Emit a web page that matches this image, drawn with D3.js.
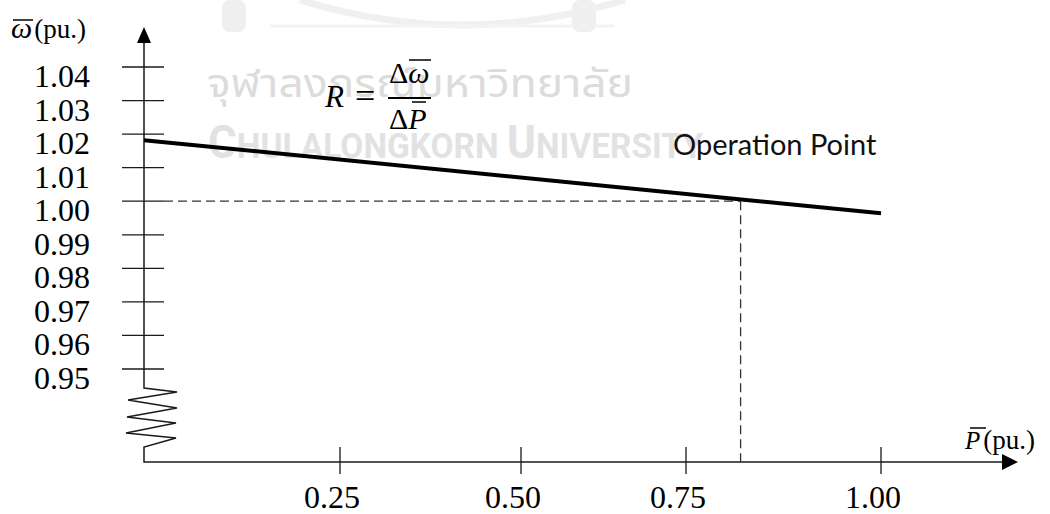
<!DOCTYPE html>
<html>
<head>
<meta charset="utf-8">
<script src="https://cdn.jsdelivr.net/npm/d3@7"></script>
<style>
  html, body { margin: 0; padding: 0; background: #fff; }
  svg { display: block; }
</style>
</head>
<body>
<svg id="canvas" width="1050" height="514"></svg>
<script>
// values
const yTicks = [0.95, 0.96, 0.97, 0.98, 0.99, 1.00, 1.01, 1.02, 1.03, 1.04]
const xTicks = [0.25, 0.50, 0.75, 1.00]
const xTickLabels = ["0.25", "0.50", "0.75", "1.00"]
// droop line (P, omega)
const droopP = [0, 1.00]
const droopW = [1.0182, 0.9964]
// operation point
const opP = 0.82
const opW = 1.00

const svg = d3.select('#canvas')
const serif = "'Liberation Serif', 'DejaVu Serif', serif"
const ink = '#1a1a1a'

// the drawing's x ticks are not evenly spaced, so a polylinear scale
const x = d3.scaleLinear()
  .domain([0, 0.25, 0.50, 0.75, 1.00])
  .range([144, 340, 521, 686, 881])
const y = d3.scaleLinear()
  .domain([0.95, 1.04])
  .range([369, 67])

const axisX = x(0)
const baseY = 462

//////////////////////
// faint watermark  //
//////////////////////
const wm = svg.append('g').attr('fill', '#efefef')
wm.append('path')
  .attr('d', 'M300,0 Q460,50 625,0')
  .attr('fill', 'none').attr('stroke', '#f0f0f0').attr('stroke-width', 7)
wm.append('line')
  .attr('x1', 270).attr('x2', 615).attr('y1', 26).attr('y2', 26)
  .attr('stroke', '#f3f3f3').attr('stroke-width', 3)
wm.append('rect').attr('x', 222).attr('y', 0).attr('width', 24).attr('height', 32).attr('rx', 8)
wm.append('rect').attr('x', 572).attr('y', 0).attr('width', 24).attr('height', 32).attr('rx', 8)
wm.append('text')
  .attr('x', 207).attr('y', 97)
  .attr('font-family', "'Noto Sans Thai', 'Loma', 'Garuda', sans-serif")
  .attr('font-size', 40)
  .attr('textLength', 426).attr('lengthAdjust', 'spacingAndGlyphs')
  .attr('fill', '#dcdcdc')
  .text('จุฬาลงกรณ์มหาวิทยาลัย')
const eng = wm.append('text')
  .attr('x', 208).attr('y', 158)
  .attr('font-family', "'Liberation Sans Narrow', 'Roboto', sans-serif")
  .attr('font-weight', 'bold')
  .attr('textLength', 495).attr('lengthAdjust', 'spacingAndGlyphs')
  .attr('fill', '#e2e2e2')
eng.append('tspan').attr('font-size', 46).text('C')
eng.append('tspan').attr('font-size', 35).text('HULALONGKORN ')
eng.append('tspan').attr('font-size', 46).text('U')
eng.append('tspan').attr('font-size', 35).text('NIVERSITY')

//////////////
// axes     //
//////////////
const zig = [[axisX, 42], [axisX, 388], [177, 392], [128, 400], [177, 408], [127, 417],
  [176, 423], [126, 433], [176, 438], [axisX, 447], [axisX, baseY], [1004, baseY]]
svg.append('path')
  .attr('d', d3.line()(zig))
  .attr('fill', 'none').attr('stroke', ink).attr('stroke-width', 1.5)

// arrow heads
svg.append('path')
  .attr('d', `M${axisX},27 L${axisX - 7},43 L${axisX + 7},43 Z`)
  .attr('fill', '#000')
svg.append('path')
  .attr('d', `M1018,${baseY} L1002,${baseY - 8} L1002,${baseY + 8} Z`)
  .attr('fill', '#000')

// y ticks, crossing the axis
svg.append('g').selectAll('line')
  .data(yTicks)
  .join('line')
  .attr('x1', axisX - 22).attr('x2', axisX + 20)
  .attr('y1', d => y(d)).attr('y2', d => y(d))
  .attr('stroke', ink).attr('stroke-width', 1.3)

svg.append('g').selectAll('text')
  .data(yTicks)
  .join('text')
  .attr('x', 90)
  .attr('y', d => y(d) + 20)
  .attr('text-anchor', 'end')
  .attr('font-family', serif).attr('font-size', 32)
  .attr('fill', '#000')
  .text(d => d3.format('.2f')(d))

// x ticks
svg.append('g').selectAll('line')
  .data(xTicks)
  .join('line')
  .attr('x1', d => x(d)).attr('x2', d => x(d))
  .attr('y1', 447).attr('y2', 474)
  .attr('stroke', ink).attr('stroke-width', 1.3)

svg.append('g').selectAll('text')
  .data(xTicks)
  .join('text')
  .attr('x', d => x(d) - 8)
  .attr('y', 508)
  .attr('text-anchor', 'middle')
  .attr('font-family', serif).attr('font-size', 32)
  .attr('fill', '#000')
  .text((d, i) => xTickLabels[i])

// axis titles with overbars
const yTitle = svg.append('text')
  .attr('x', 11).attr('y', 38)
  .attr('font-family', serif).attr('fill', '#000')
yTitle.append('tspan').attr('font-style', 'italic').attr('font-size', 30).text('ω')
yTitle.append('tspan').attr('font-size', 27).attr('dx', 2).text('(pu.)')
svg.append('line').attr('x1', 13).attr('x2', 33).attr('y1', 20).attr('y2', 20)
  .attr('stroke', '#000').attr('stroke-width', 1.5)

const xTitle = svg.append('text')
  .attr('x', 965).attr('y', 449)
  .attr('font-family', serif).attr('fill', '#000')
xTitle.append('tspan').attr('font-style', 'italic').attr('font-size', 25).text('P')
xTitle.append('tspan').attr('font-size', 27).attr('dx', 3).text('(pu.)')
svg.append('line').attr('x1', 970).attr('x2', 986).attr('y1', 428).attr('y2', 428)
  .attr('stroke', '#000').attr('stroke-width', 1.5)

//////////////////////
// operation point  //
//////////////////////
const dash = svg.append('g')
  .attr('stroke', '#333').attr('stroke-width', 1.3)
  .attr('stroke-dasharray', '9,5').attr('fill', 'none')
dash.append('line')
  .attr('x1', axisX + 20).attr('x2', x(opP))
  .attr('y1', y(opW)).attr('y2', y(opW))
dash.append('line')
  .attr('x1', x(opP)).attr('x2', x(opP))
  .attr('y1', y(opW)).attr('y2', baseY)

// droop line
svg.append('path')
  .datum(droopP.map((p, i) => [p, droopW[i]]))
  .attr('d', d3.line().x(d => x(d[0])).y(d => y(d[1])))
  .attr('fill', 'none').attr('stroke', '#000').attr('stroke-width', 4)

svg.append('text')
  .attr('x', 673).attr('y', 155)
  .attr('font-family', "Lato, 'Open Sans', sans-serif")
  .attr('font-size', 29)
  .attr('fill', '#111')
  .text('Operation Point')

// R = dw / dP
const eq = svg.append('g').attr('font-family', serif).attr('fill', '#000')
eq.append('text').attr('x', 325).attr('y', 107)
  .attr('font-style', 'italic').attr('font-size', 31).text('R')
eq.append('text').attr('x', 355).attr('y', 108)
  .attr('font-size', 36).text('=')
eq.append('line').attr('x1', 388).attr('x2', 431).attr('y1', 98).attr('y2', 98)
  .attr('stroke', '#000').attr('stroke-width', 2)
const num = eq.append('text').attr('x', 389).attr('y', 83).attr('font-size', 30)
num.append('tspan').text('Δ')
num.append('tspan').attr('font-style', 'italic').text('ω')
eq.append('line').attr('x1', 409).attr('x2', 431).attr('y1', 60).attr('y2', 60)
  .attr('stroke', '#000').attr('stroke-width', 1.5)
const den = eq.append('text').attr('x', 389).attr('y', 129).attr('font-size', 30)
den.append('tspan').text('Δ')
den.append('tspan').attr('font-style', 'italic').text('P')
eq.append('line').attr('x1', 412).attr('x2', 426).attr('y1', 102).attr('y2', 102)
  .attr('stroke', '#000').attr('stroke-width', 1.5)
</script>
</body>
</html>
